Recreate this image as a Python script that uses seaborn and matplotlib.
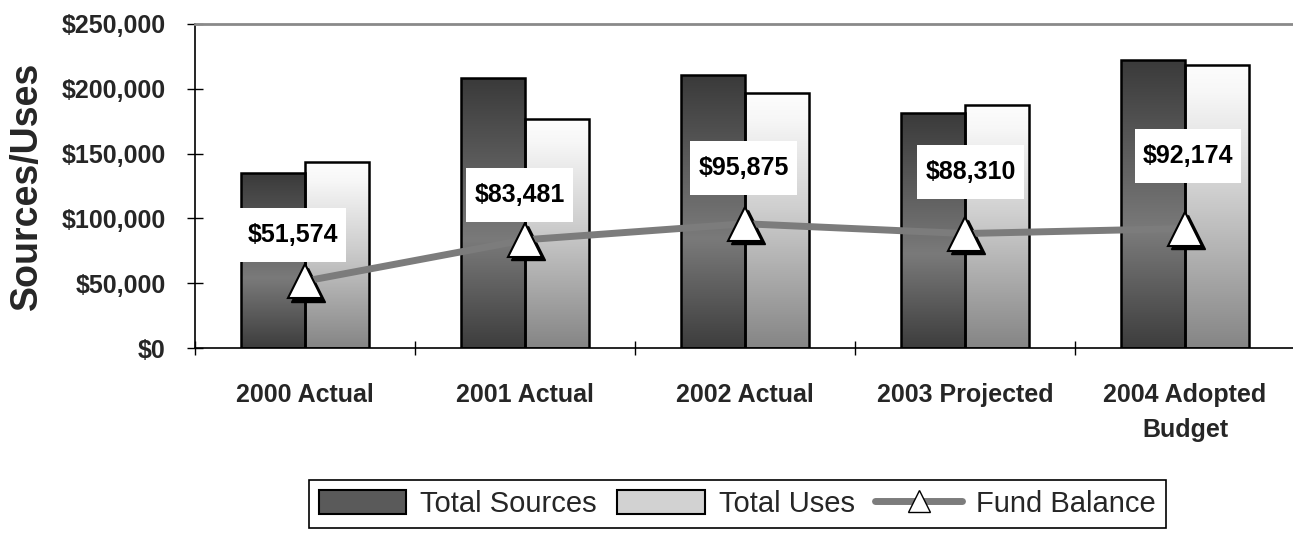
import numpy as np
import pandas as pd
import matplotlib
matplotlib.use("Agg")
import matplotlib.pyplot as plt
import matplotlib.transforms as mtransforms
from matplotlib.colors import LinearSegmentedColormap
from matplotlib.patches import Patch
from matplotlib.lines import Line2D
from matplotlib.path import Path
from matplotlib.ticker import FuncFormatter, MultipleLocator
import seaborn as sns

# ---- data ----
categories = ["2000 Actual", "2001 Actual", "2002 Actual", "2003 Projected", "2004 Adopted\nBudget"]
total_sources = [135000, 208000, 210500, 181000, 222500]
total_uses = [143500, 176500, 196500, 187500, 218500]
fund_balance = [51574, 83481, 95875, 88310, 92174]
series_names = ["Total Sources", "Total Uses", "Fund Balance"]

# label box offsets (points) relative to the line point -- layout only
label_offsets = [(-9, 33), (-4, 32), (-1, 40), (4, 44), (2, 52)]

sns.set_theme(style="white")
plt.rcParams["font.family"] = ["Liberation Sans", "DejaVu Sans"]

df = pd.DataFrame({
    "cat": categories * 2,
    "series": [series_names[0]] * len(categories) + [series_names[1]] * len(categories),
    "value": total_sources + total_uses,
})

fig = plt.figure(figsize=(12.93, 5.39), dpi=100)
ax = fig.add_axes([195 / 1293, 191 / 539, 1100 / 1293, 324 / 539])

sns.barplot(data=df, x="cat", y="value", hue="series", order=categories,
            hue_order=series_names[:2], width=0.58, gap=0, dodge=True,
            palette=["#555555", "#cccccc"], edgecolor="black", linewidth=1.8,
            legend=False, ax=ax, zorder=2)

ax.set_xlim(-0.5, 4.5)
ax.set_ylim(0, 250000)

cmap_src = LinearSegmentedColormap.from_list(
    "src", [(0, "#3d3d3d"), (0.4, "#7a7a7a"), (1, "#3a3a3a")])
cmap_use = LinearSegmentedColormap.from_list(
    "use", [(0, "#858585"), (0.55, "#cfcfcf"), (0.9, "#f7f7f7"), (1, "#fdfdfd")])
grad = np.linspace(0, 1, 256).reshape(-1, 1)
for cont, cmap in zip(ax.containers[:2], [cmap_src, cmap_use]):
    for patch in cont.patches:
        x0, y0 = patch.get_x(), patch.get_y()
        w, h = patch.get_width(), patch.get_height()
        patch.set_facecolor("none")
        im = ax.imshow(grad, cmap=cmap, aspect="auto", origin="lower",
                       extent=(x0, x0 + w, y0, y0 + h), zorder=1.5,
                       interpolation="bilinear")
        im.set_clip_path(patch)
ax.set_xlim(-0.5, 4.5)
ax.set_ylim(0, 250000)
ax.set_aspect("auto")

xpos = np.arange(len(categories))
# marker shadow
shadow = mtransforms.offset_copy(ax.transData, fig=fig, x=2.5, y=-2.5, units="points")
ax.plot(xpos, fund_balance, linestyle="none", marker="^", markersize=24,
        color="black", transform=shadow, zorder=3)
sns.lineplot(x=xpos, y=fund_balance, ax=ax, color="#7c7c7c", linewidth=5,
             marker="^", markersize=24, markerfacecolor="white",
             markeredgecolor="black", markeredgewidth=1.5, zorder=4)


def label_box(x0, y0, width, height, mutation_size):
    padx = 0.32 * mutation_size
    pady = 0.6 * mutation_size
    xa, xb = x0 - padx, x0 + width + padx
    ya, yb = y0 - pady, y0 + height + pady
    return Path([(xa, ya), (xb, ya), (xb, yb), (xa, yb), (xa, ya)], closed=True)


for i, v in enumerate(fund_balance):
    ax.annotate(f"${v:,}", xy=(xpos[i], v), xytext=label_offsets[i],
                textcoords="offset points", ha="center", va="center",
                fontsize=18, fontweight="bold", color="black", zorder=6,
                bbox=dict(boxstyle=label_box, facecolor="white", edgecolor="none"))

# axes styling
ax.yaxis.set_major_locator(MultipleLocator(50000))
ax.yaxis.set_major_formatter(FuncFormatter(lambda v, p: f"${v:,.0f}"))
ax.set_xticks(xpos)
ax.set_xticklabels(categories)
ax.set_xticks(np.arange(-0.5, 5, 1), minor=True)
ax.tick_params(axis="x", which="major", length=0, pad=25, labelsize=18)
ax.tick_params(axis="x", which="minor", length=10, direction="inout", width=1, color="black", bottom=True)
ax.tick_params(axis="y", which="major", length=12, direction="inout", width=1, color="black", left=True, pad=15, labelsize=18)
for lab in ax.get_xticklabels() + ax.get_yticklabels():
    lab.set_fontweight("bold")
for lab in ax.get_xticklabels():
    lab.set_linespacing(1.6)
ax.set_xlabel("")
ax.set_ylabel("Sources/Uses", fontsize=27, fontweight="bold")
ax.yaxis.set_label_coords(-0.136, 0.5)

for s in ["left", "bottom"]:
    ax.spines[s].set_color("black")
    ax.spines[s].set_linewidth(1.2)
ax.spines["right"].set_visible(False)
ax.spines["top"].set_color("#8a8a8a")
ax.spines["top"].set_linewidth(2)
ax.grid(False)

handles = [
    Patch(facecolor="#5a5a5a", edgecolor="black", linewidth=1.5),
    Patch(facecolor="#d2d2d2", edgecolor="black", linewidth=1.5),
    Line2D([], [], color="#7c7c7c", linewidth=5, marker="^", markersize=16,
           markerfacecolor="white", markeredgecolor="black"),
]
fig.legend(handles, series_names, loc="center", bbox_to_anchor=(0.5704, 0.065),
           ncol=3, fontsize=21, frameon=True, fancybox=False, edgecolor="black",
           handlelength=3.0, handleheight=0.9, handletextpad=0.48, columnspacing=0.69,
           borderpad=0.35, framealpha=1)
fig.legends[0].get_frame().set_linewidth(1.2)

fig.savefig("out.png", dpi=100)
